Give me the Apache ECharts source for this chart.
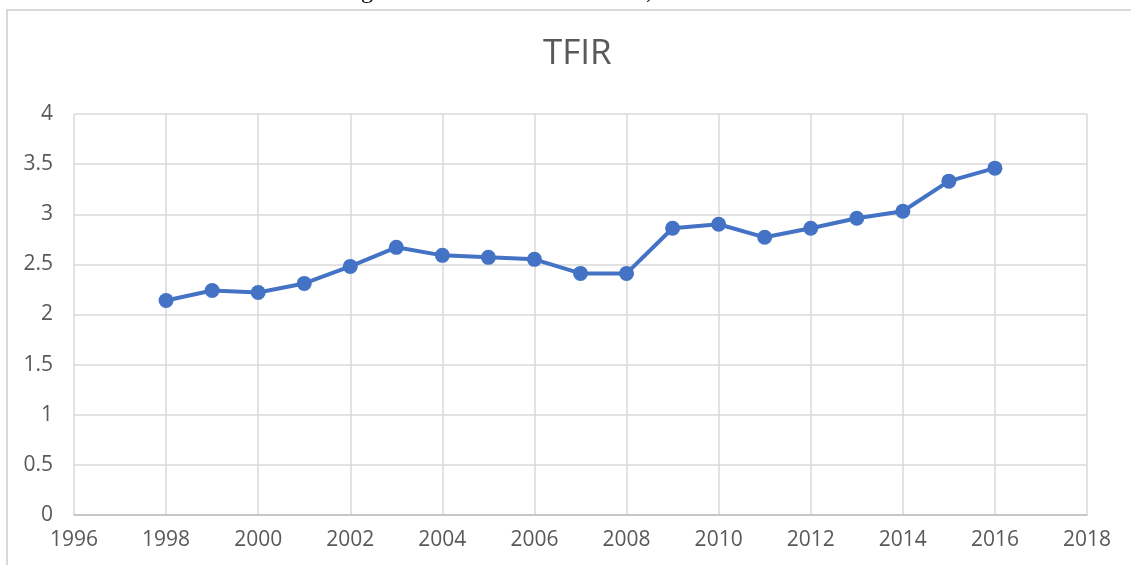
<!DOCTYPE html>
<html>
<head>
<meta charset="utf-8">
<script src="https://cdn.jsdelivr.net/npm/echarts@6/dist/echarts.min.js"></script>
<style>
html,body{margin:0;padding:0;background:#fff;}
#chart{width:1131px;height:565px;}
</style>
</head>
<body>
<div id="chart"></div>
<script>
const title = 'TFIR';
const years = [1998,1999,2000,2001,2002,2003,2004,2005,2006,2007,2008,2009,2010,2011,2012,2013,2014,2015,2016];
const tfir = [2.14,2.24,2.22,2.31,2.48,2.67,2.59,2.57,2.55,2.41,2.41,2.86,2.90,2.77,2.86,2.96,3.03,3.33,3.46];
const xRange = [1996, 2018, 2];
const yRange = [0, 4, 0.5];

const chart = echarts.init(document.getElementById('chart'), null, {renderer:'canvas'});
const textColor = '#595959';
const font = '"Open Sans", sans-serif';
chart.setOption({
  animation: false,
  backgroundColor: '#fff',
  title: {
    text: title, left: 538, top: 32,
    textStyle: {color: textColor, fontSize: 35, fontWeight: 'normal', fontFamily: font}
  },
  graphic: [
    {type:'rect', shape:{x:7, y:10, width:1200, height:700}, style:{fill:'none', stroke:'#d9d9d9', lineWidth:2}, silent:true},
    {type:'text', x:361, y:-20, style:{text:'g', fontSize:24, fontFamily:'"Liberation Serif", serif', fill:'#000'}},
    {type:'text', x:646, y:-20, style:{text:',', fontSize:24, fontFamily:'"Liberation Serif", serif', fill:'#000'}}
  ],
  grid: {left: 74, right: 44, top: 114, bottom: 50, containLabel: false},
  xAxis: {
    type: 'value', min: xRange[0], max: xRange[1], interval: xRange[2],
    axisLine: {show: true, lineStyle: {color: '#bfbfbf', width: 1.5}},
    axisTick: {show: false},
    axisLabel: {color: textColor, fontSize: 21, fontFamily: font, margin: 15, formatter: v => String(v)},
    splitLine: {show: true, lineStyle: {color: '#d9d9d9', width: 1.5}}
  },
  yAxis: {
    type: 'value', min: yRange[0], max: yRange[1], interval: yRange[2],
    axisLine: {show: false},
    axisTick: {show: false},
    axisLabel: {color: textColor, fontSize: 21, fontFamily: font, margin: 21},
    splitLine: {show: true, lineStyle: {color: '#d9d9d9', width: 1.5}}
  },
  series: [{
    type: 'line',
    data: years.map((y, i) => [y, tfir[i]]),
    symbol: 'circle', symbolSize: 15,
    lineStyle: {color: '#4472C4', width: 4},
    itemStyle: {color: '#4472C4'}
  }]
});
</script>
</body>
</html>
